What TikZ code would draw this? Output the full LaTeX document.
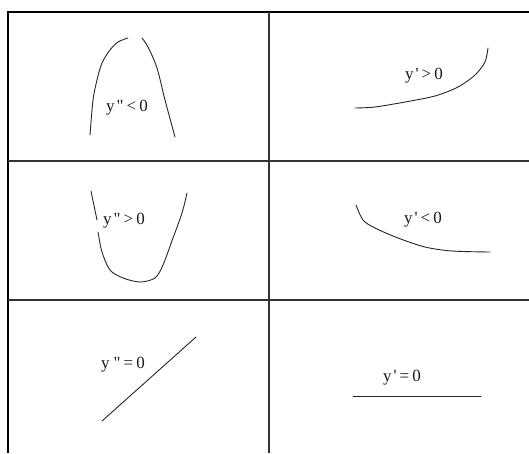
\documentclass[tikz,border=0pt]{standalone}
\usepackage{fontspec}
\setmainfont{Liberation Serif}
\begin{document}
\begin{tikzpicture}[x=1pt,y=-1pt,
  frame/.style={line width=2pt,black},
  grid/.style={line width=1.1pt,black!80},
  curve/.style={line width=0.9pt,black!85,line cap=round},
  lbl/.style={inner sep=0pt,font=\fontsize{17}{18}\selectfont,text=black!90}]
\useasboundingbox (0,0) rectangle (529,453);
% table
\draw[frame] (8,453) -- (8,12) -- (529,12);
\draw[grid] (8,161) -- (529,161);
\draw[grid] (8,300) -- (529,300);
\draw[grid] (269,12) -- (269,453);
% cell 1: y'' < 0
\draw[curve] plot[smooth] coordinates {(90,135) (93,100) (97,80) (102,63) (110,50) (118,42) (128,38)};
\draw[curve] plot[smooth] coordinates {(142,38) (148,47) (157,68) (165,100) (175,137)};
\node[lbl] (l1) at (127,108) {y\kern2pt\textquotedbl\kern3pt<\kern3pt0};
% cell 2: y' > 0
\draw[curve] plot[smooth] coordinates {(355,108) (375,107) (405,102) (435,96) (458,87) (475,75) (485,62) (488,48)};
\node[lbl] (l2) at (424,76) {y\kern2pt\textquotesingle\kern3pt>\kern3pt0};
% cell 3: y'' > 0
\draw[curve] plot[smooth] coordinates {(91,191) (97,220)};
\draw[curve] plot[smooth] coordinates {(98,232) (102,252) (110,270) (123,278) (140,282) (155,278) (163,265) (173,238) (182,213) (187,193)};
\node[lbl] (l3) at (124,221) {y\kern2pt\textquotedbl\kern3pt>\kern3pt0};
% cell 4: y' < 0
\draw[curve] plot[smooth] coordinates {(356,205) (363,220) (375,228) (398,238) (425,247) (452,251) (490,252)};
\node[lbl] (l4) at (423,220) {y\kern2pt\textquotesingle\kern3pt<\kern3pt0};
% cell 5: y'' = 0
\draw[curve] (102,421) -- (196,337);
\node[lbl] (l5) at (123,365) {y\kern4pt\textquotedbl\kern3pt=\kern3pt0};
% cell 6: y' = 0
\draw[curve] (353,396) -- (481,396);
\node[lbl] (l6) at (402,378) {y\kern2pt\textquotesingle\kern3pt=\kern3pt0};
\end{tikzpicture}
\end{document}
